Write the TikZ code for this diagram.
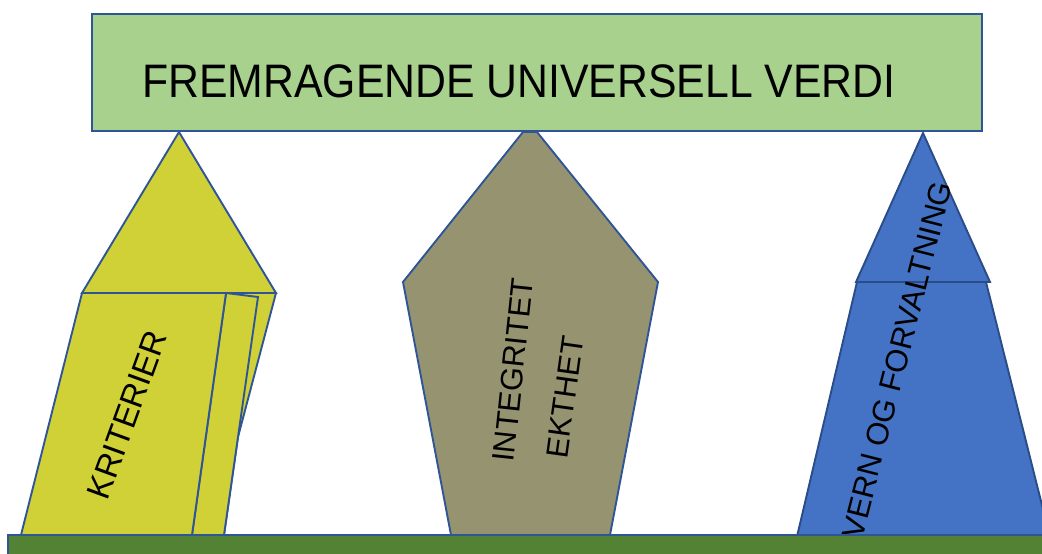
\documentclass[tikz,border=0pt]{standalone}
\usepackage{fontspec}
\setmainfont{Liberation Sans}
\definecolor{edge}{RGB}{47,85,151}
\definecolor{topgreen}{RGB}{169,209,142}
\definecolor{yel}{RGB}{208,208,55}
\definecolor{olive}{RGB}{150,148,112}
\definecolor{blu}{RGB}{68,114,196}
\definecolor{ground}{RGB}{84,130,53}
\begin{document}
\begin{tikzpicture}[x=1pt,y=-1pt,
  outl/.style={draw=edge,line width=1.9pt,line join=miter},
  lbl/.style={inner sep=0pt,text=black}]
\useasboundingbox (0,0) rectangle (1042,554);
\begin{scope}
\clip (0,0) rectangle (1042,554);
% left (yellow)
\fill[yel] (82,293) -- (276,293) -- (238,437) -- (224,535) -- (21,535) -- cycle;
\draw[outl,fill=yel] (179,132) -- (276,293) -- (82,293) -- cycle;
\draw[outl,fill=yel] (226,293) -- (276,293) -- (238,437) -- (224,535) -- cycle;
\draw[outl,fill=yel] (226,293) -- (258,297) -- (238,437) -- (224,535) -- (192,535) -- cycle;
\draw[outl,fill=yel] (82,293) -- (226,293) -- (192,535) -- (21,535) -- cycle;
\node[lbl,rotate=70,font=\fontsize{33}{33}\selectfont] (krit) at (127,415) {KRITERIER};
% middle (olive)
\draw[outl,fill=olive] (523,132) -- (537,132) -- (658,282) -- (610,535) -- (451,535) -- (403,282) -- cycle;
\node[lbl,rotate=84,font=\fontsize{31}{31}\selectfont] (integ) at (513,370) {INTEGRITET};
\node[lbl,rotate=82,font=\fontsize{31}{31}\selectfont] (ekt) at (565,397) {EKTHET};
% right (blue)
\draw[outl,fill=blu,draw=edge!90!black] (857,282) -- (986,282) -- (1052,545) -- (795,545) -- cycle;
\draw[outl,fill=blu,draw=edge!90!black] (923,133) -- (990,282) -- (856,282) -- cycle;
\node[lbl,rotate=75.7,font=\fontsize{31}{31}\selectfont] (vern) at (897,360) {VERN OG FORVALTNING};
% ground
\draw[outl,fill=ground] (8,535) rectangle (1060,570);
\end{scope}
% top box
\draw[outl,fill=topgreen] (92,14) rectangle (982,131);
\node[lbl,font=\fontsize{47}{47}\selectfont,xscale=0.91] (title) at (519,81) {FREMRAGENDE UNIVERSELL VERDI};
\end{tikzpicture}
\end{document}
